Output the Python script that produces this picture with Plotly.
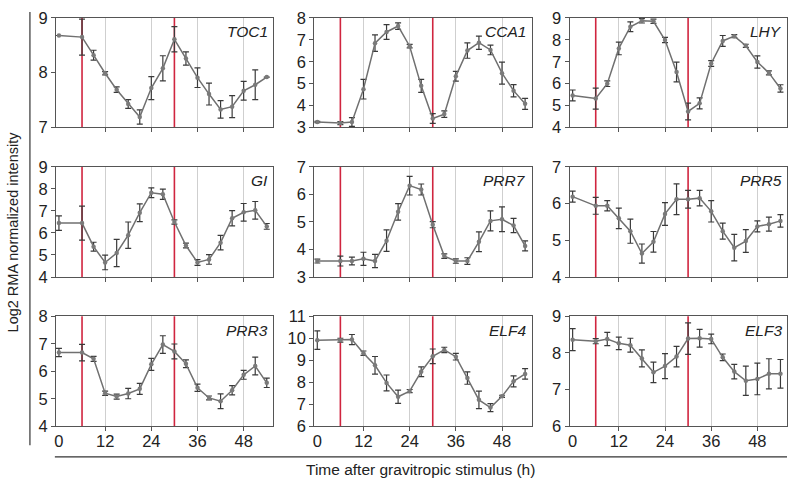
import plotly.graph_objects as go

time_h = [0, 6, 9, 12, 15, 18, 21, 24, 27, 30, 33, 36, 39, 42, 45, 48, 51, 54]
stimulus_times = [6, 30]
x_tick_vals = [0, 12, 24, 36, 48]
grid_vals = [12, 24, 36, 48]

genes = ["TOC1", "CCA1", "LHY", "GI", "PRR7", "PRR5", "PRR3", "ELF4", "ELF3"]

toc1 = [8.68, 8.65, 8.32, 7.99, 7.69, 7.43, 7.19, 7.72, 8.08, 8.61, 8.26, 7.91, 7.61, 7.33, 7.38, 7.67, 7.78, 7.92]
toc1_err = [0, 0.33, 0.09, 0.03, 0.05, 0.08, 0.13, 0.21, 0.23, 0.23, 0.12, 0.18, 0.2, 0.16, 0.2, 0.17, 0.27, 0]

cca1 = [3.25, 3.2, 3.25, 4.75, 6.85, 7.36, 7.63, 6.71, 4.9, 3.41, 3.61, 5.34, 6.51, 6.87, 6.54, 5.48, 4.68, 4.08]
cca1_err = [0.03, 0.07, 0.2, 0.45, 0.38, 0.34, 0.15, 0.08, 0.3, 0.22, 0.15, 0.22, 0.35, 0.3, 0.22, 0.5, 0.28, 0.25]

lhy = [5.46, 5.32, 6.0, 7.61, 8.6, 8.87, 8.85, 7.99, 6.53, 4.73, 5.1, 6.92, 7.95, 8.17, 7.73, 6.99, 6.49, 5.78]
lhy_err = [0.25, 0.48, 0.13, 0.29, 0.22, 0.1, 0.1, 0.12, 0.45, 0.38, 0.25, 0.13, 0.25, 0.07, 0.07, 0.28, 0.09, 0.17]

gi = [6.45, 6.45, 5.38, 4.66, 5.09, 5.9, 6.92, 7.83, 7.76, 6.5, 5.43, 4.66, 4.8, 5.56, 6.67, 6.94, 7.03, 6.3]
gi_err = [0.33, 0.77, 0.2, 0.33, 0.62, 0.6, 0.4, 0.22, 0.23, 0.1, 0.11, 0.13, 0.22, 0.33, 0.35, 0.4, 0.4, 0.13]

prr7 = [3.58, 3.58, 3.58, 3.66, 3.58, 4.32, 5.37, 6.32, 6.18, 4.9, 3.76, 3.58, 3.58, 4.28, 5.04, 5.1, 4.87, 4.13]
prr7_err = [0.07, 0.18, 0.14, 0.24, 0.24, 0.39, 0.3, 0.34, 0.2, 0.11, 0.08, 0.08, 0.12, 0.36, 0.36, 0.45, 0.26, 0.18]

prr5 = [6.19, 5.94, 5.94, 5.6, 5.25, 4.64, 4.96, 5.72, 6.12, 6.12, 6.15, 5.79, 5.25, 4.8, 4.98, 5.38, 5.44, 5.53]
prr5_err = [0.15, 0.23, 0.14, 0.28, 0.33, 0.26, 0.28, 0.31, 0.42, 0.24, 0.21, 0.29, 0.22, 0.36, 0.31, 0.15, 0.19, 0.17]

prr3 = [6.68, 6.68, 6.45, 5.2, 5.08, 5.19, 5.36, 6.25, 6.97, 6.72, 6.27, 5.4, 5.03, 4.91, 5.31, 5.87, 6.19, 5.58]
prr3_err = [0.15, 0.3, 0.09, 0.08, 0.09, 0.19, 0.2, 0.22, 0.32, 0.27, 0.14, 0.13, 0.07, 0.27, 0.17, 0.16, 0.32, 0.17]

elf4 = [9.91, 9.91, 9.94, 9.32, 8.77, 7.97, 7.34, 7.6, 8.48, 9.18, 9.47, 9.16, 8.19, 7.2, 6.85, 7.36, 8.04, 8.38]
elf4_err = [0.42, 0.09, 0.23, 0.1, 0.4, 0.36, 0.3, 0.07, 0.22, 0.33, 0.12, 0.15, 0.28, 0.4, 0.18, 0.05, 0.25, 0.24]

elf3 = [8.36, 8.32, 8.38, 8.26, 8.21, 7.85, 7.47, 7.64, 7.9, 8.39, 8.4, 8.38, 7.88, 7.49, 7.24, 7.29, 7.43, 7.43]
elf3_err = [0.3, 0.07, 0.18, 0.17, 0.19, 0.23, 0.28, 0.34, 0.28, 0.43, 0.24, 0.13, 0.09, 0.2, 0.4, 0.43, 0.41, 0.39]

values = [toc1, cca1, lhy, gi, prr7, prr5, prr3, elf4, elf3]
errors = [toc1_err, cca1_err, lhy_err, gi_err, prr7_err, prr5_err, prr3_err, elf4_err, elf3_err]
y_ranges = [(7, 9), (3, 8), (4, 9), (4, 9), (3, 7), (4, 7), (4, 8), (6, 11), (6, 9)]

W, H = 788, 487
col_px = [(54, 272), (313, 531), (569, 787)]
row_px = [(9.3, 123), (164, 278.3), (319, 433.3)]

FONT = "Liberation Sans, Arial, sans-serif"
fig = go.Figure()
layout = dict(
    width=W, height=H, margin=dict(l=0, r=0, t=0, b=0),
    paper_bgcolor="white", plot_bgcolor="white", showlegend=False,
    font=dict(family=FONT, color="#222", size=15),
)
shapes = []
annotations = []

for i, g in enumerate(genes):
    r, c = divmod(i, 3)
    n = i + 1
    xa = "x" if n == 1 else f"x{n}"
    ya = "y" if n == 1 else f"y{n}"
    xkey = "xaxis" if n == 1 else f"xaxis{n}"
    ykey = "yaxis" if n == 1 else f"yaxis{n}"
    x0, x1 = col_px[c]
    t, b = row_px[r]
    bottom = r == 2
    layout[xkey] = dict(
        domain=[x0 / W, x1 / W], anchor=ya, range=[-0.8, 55.7],
        tickvals=x_tick_vals, ticks="", showticklabels=bottom,
        tickfont=dict(size=16.5, family=FONT, color="#222"),
        showgrid=False, zeroline=False,
        showline=True, mirror=True, linecolor="#555", linewidth=1,
        minor=dict(tickvals=grid_vals, ticks="outside", ticklen=4, tickcolor="#555",
                   tickwidth=1, showgrid=True, gridcolor="#cfcfcf", gridwidth=1),
        fixedrange=True,
    )
    lo, hi = y_ranges[i]
    layout[ykey] = dict(
        domain=[1 - b / H, 1 - t / H], anchor=xa, range=[lo, hi],
        dtick=1, tick0=lo, ticks="outside", ticklen=4, tickcolor="#555",
        tickfont=dict(size=16.5, family=FONT, color="#222"),
        showgrid=False, zeroline=False,
        showline=True, mirror=True, linecolor="#555", linewidth=1,
        fixedrange=True,
    )
    for st in stimulus_times:
        shapes.append(dict(type="line", xref=xa, yref=f"{ya} domain", x0=st, x1=st, y0=0, y1=1,
                           line=dict(color="#d0253f", width=1.6), layer="below"))
    annotations.append(dict(xref=f"{xa} domain", yref=f"{ya} domain", x=0.985, y=0.97,
                            xanchor="right", yanchor="top", showarrow=False,
                            text=f"<i>{g}</i>", font=dict(size=15.5, family=FONT, color="#222")))
    fig.add_trace(go.Scatter(
        x=time_h, y=values[i], xaxis=xa, yaxis=ya, mode="lines+markers",
        line=dict(color="#707070", width=1.5),
        marker=dict(color="#7a7a7a", size=4.5),
        error_y=dict(type="data", array=errors[i], visible=True, color="#3a3a3a",
                     thickness=1.2, width=3),
        hoverinfo="x+y",
    ))

# decorative frame lines for shared axis titles
shapes.append(dict(type="line", xref="paper", yref="paper", x0=28 / W, x1=28 / W,
                   y0=1 - 453 / H, y1=1 - 3 / H, line=dict(color="#333", width=1.2)))
shapes.append(dict(type="line", xref="paper", yref="paper", x0=53 / W, x1=787 / W,
                   y0=1 - 465 / H, y1=1 - 465 / H, line=dict(color="#333", width=1.2)))

annotations.append(dict(xref="paper", yref="paper", x=11 / W, y=1 - 231 / H, textangle=-90,
                        text="Log2 RMA normalized intensity", showarrow=False,
                        xanchor="center", yanchor="middle",
                        font=dict(size=14.5, family=FONT, color="#222")))
annotations.append(dict(xref="paper", yref="paper", x=420 / W, y=1 - 478 / H,
                        text="Time after gravitropic stimulus (h)", showarrow=False,
                        xanchor="center", yanchor="middle",
                        font=dict(size=15.5, family=FONT, color="#222")))

layout["shapes"] = shapes
layout["annotations"] = annotations
fig.update_layout(**layout)
fig.write_html("out.html", config={"displayModeBar": False},
               post_script="document.body.style.margin='0';document.body.style.overflow='hidden';")
